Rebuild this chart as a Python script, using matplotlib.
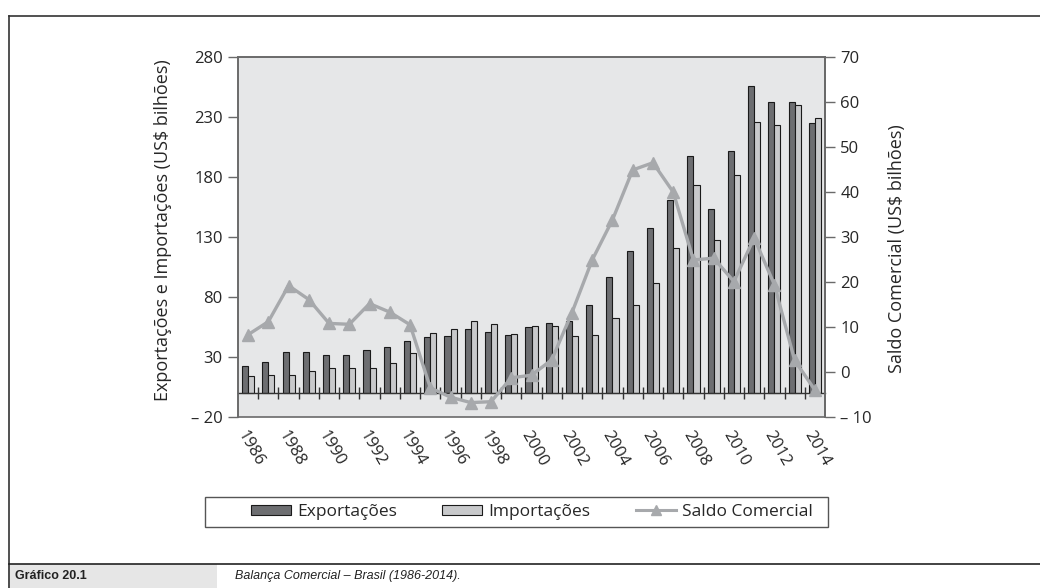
import matplotlib
matplotlib.use("Agg")
import matplotlib.pyplot as plt
import numpy as np
from matplotlib.patches import Patch, Rectangle
from matplotlib.lines import Line2D

# ---- data (US$ bilhões) ----
years = list(range(1986, 2015))
exportacoes = [22.3, 26.2, 33.8, 34.4, 31.4, 31.6, 35.8, 38.6, 43.5, 46.5,
               47.7, 53.0, 51.1, 48.0, 55.1, 58.2, 60.4, 73.2, 96.7, 118.5,
               137.8, 160.6, 197.9, 153.0, 201.9, 256.0, 242.6, 242.2, 225.1]
importacoes = [14.0, 15.1, 14.6, 18.3, 20.7, 21.0, 20.6, 25.3, 33.1, 49.9,
               53.3, 59.7, 57.8, 49.3, 55.8, 55.6, 47.2, 48.3, 62.8, 73.6,
               91.4, 120.6, 173.0, 127.7, 181.8, 226.2, 223.2, 239.7, 229.1]
saldo = [8.3, 11.2, 19.2, 16.1, 10.8, 10.6, 15.2, 13.3, 10.5, -3.5,
         -5.6, -6.8, -6.6, -1.3, -0.7, 2.7, 13.2, 24.9, 33.8, 44.9,
         46.5, 40.0, 24.9, 25.3, 20.1, 29.8, 19.4, 2.6, -4.0]
left_ticks = list(range(-20, 281, 50))
right_ticks = list(range(-10, 71, 10))

FONT = "Open Sans"
TXT = "#262626"
SPINE = "#6a6a6a"
DARK = "#6d6e71"
LIGHT = "#c8c9cb"
LINEC = "#a7a9ac"
TS = 12  # tick label size

W, H = 1040, 588
fig = plt.figure(figsize=(W / 100, H / 100), dpi=100)

ax = fig.add_axes([238 / W, 1 - 417 / H, (825 - 238) / W, (417 - 57) / H])
ax.set_facecolor("#e6e7e8")
x = np.arange(len(years))
bw = 0.3
ax.bar(x - bw / 2, exportacoes, bw, color=DARK, edgecolor="#1a1a1a", linewidth=0.8, zorder=3)
ax.bar(x + bw / 2, importacoes, bw, color=LIGHT, edgecolor="#1a1a1a", linewidth=0.8, zorder=3)
ax.set_xlim(-0.5, len(years) - 0.5)
ax.set_ylim(-20, 280)

# frame
for s in ["left", "top", "right"]:
    ax.spines[s].set_color(SPINE)
    ax.spines[s].set_linewidth(1.2)
ax.add_patch(Rectangle((0, 0), 1, 1, transform=ax.transAxes, fill=False,
                       ec=SPINE, lw=1.2, clip_on=False, zorder=5))
ax.spines["bottom"].set_position(("data", 0))
ax.spines["bottom"].set_color("#333333")
ax.spines["bottom"].set_linewidth(1.0)
ax.spines["bottom"].set_zorder(4)

ax.set_xticks(x[::2])
ax.set_xticklabels([str(y) for y in years[::2]])
ax.set_xticks(np.arange(0.5, len(years) - 1, 1), minor=True)
ax.tick_params(axis="x", which="major", length=0, pad=25, labelsize=TS, labelcolor=TXT)
ax.tick_params(axis="x", which="minor", direction="inout", length=9, width=1, color="#333333")
for lab in ax.get_xticklabels():
    lab.set_rotation(-60)
    lab.set_ha("left")
    lab.set_va("top")
    lab.set_rotation_mode("anchor")
    lab.set_fontfamily(FONT)

ax.set_yticks(left_ticks)
ax.set_yticklabels([("– %d" % -v) if v < 0 else str(v) for v in left_ticks],
                   fontfamily=FONT)
ax.tick_params(axis="y", direction="out", length=7, width=1, color=SPINE,
               labelsize=TS, labelcolor=TXT, pad=4)
ax.set_ylabel("Exportações e Importações (US$ bilhões)", fontfamily=FONT,
              fontsize=13, color=TXT)
ax.yaxis.set_label_coords(-0.112, 0.518)

ax2 = ax.twinx()
ax2.plot(x, saldo, color=LINEC, marker="^", markersize=8.5, linewidth=2.4, zorder=6)
ax2.set_ylim(-10, 70)
for s in ["left", "top", "bottom"]:
    ax2.spines[s].set_visible(False)
ax2.spines["right"].set_color(SPINE)
ax2.spines["right"].set_linewidth(1.2)
ax2.set_yticks(right_ticks)
ax2.set_yticklabels([("– %d" % -v) if v < 0 else str(v) for v in right_ticks],
                    fontfamily=FONT)
ax2.tick_params(axis="y", direction="out", length=7, width=1, color=SPINE,
                labelsize=TS, labelcolor=TXT, pad=4)
ax2.set_ylabel("Saldo Comercial (US$ bilhões)", fontfamily=FONT, fontsize=13,
               color=TXT, rotation=90)
ax2.yaxis.set_label_coords(1.107, 0.469)

# legend
handles = [Patch(facecolor=DARK, edgecolor="#1a1a1a", linewidth=0.8),
           Patch(facecolor=LIGHT, edgecolor="#1a1a1a", linewidth=0.8),
           Line2D([], [], color=LINEC, marker="^", markersize=6.5, linewidth=2.2)]
labels = ["Exportações", "Importações", "Saldo Comercial"]
fig.legend(handles, labels, ncol=3, loc="center",
           bbox_to_anchor=(532 / W, 1 - 512 / H), frameon=False,
           handlelength=2.3, handleheight=0.5, handletextpad=0.35,
           columnspacing=2.6, prop={"family": FONT, "size": 12.5},
           labelcolor=TXT)
fig.patches.append(Rectangle((205 / W, 1 - 527 / H), 623 / W, 30 / H,
                             transform=fig.transFigure, fill=False,
                             ec="#555555", lw=1.0))

# outer frame and caption strip
fig.patches.append(Rectangle((8 / W, 0), (217 - 8) / W, (588 - 564) / H,
                             transform=fig.transFigure, fc="#e6e6e6", ec="none"))
fig.lines.append(Line2D([8.5 / W, 8.5 / W], [0, 1 - 15.5 / H], transform=fig.transFigure,
                        color="#333333", lw=1.2))
fig.lines.append(Line2D([8.5 / W, 1], [1 - 15.5 / H, 1 - 15.5 / H], transform=fig.transFigure,
                        color="#333333", lw=1.2))
fig.lines.append(Line2D([8.5 / W, 1], [1 - 563.5 / H, 1 - 563.5 / H], transform=fig.transFigure,
                        color="#222222", lw=1.2))
fig.text(15 / W, 1 - 576 / H, "Gráfico 20.1", fontfamily="Liberation Sans",
         fontweight="bold", fontsize=9, color="#222222", va="center", ha="left")
fig.text(235 / W, 1 - 576 / H, "Balança Comercial – Brasil (1986-2014).",
         fontfamily="Liberation Sans", fontstyle="italic", fontsize=9,
         color="#222222", va="center", ha="left")

fig.savefig("out.png", dpi=100)
